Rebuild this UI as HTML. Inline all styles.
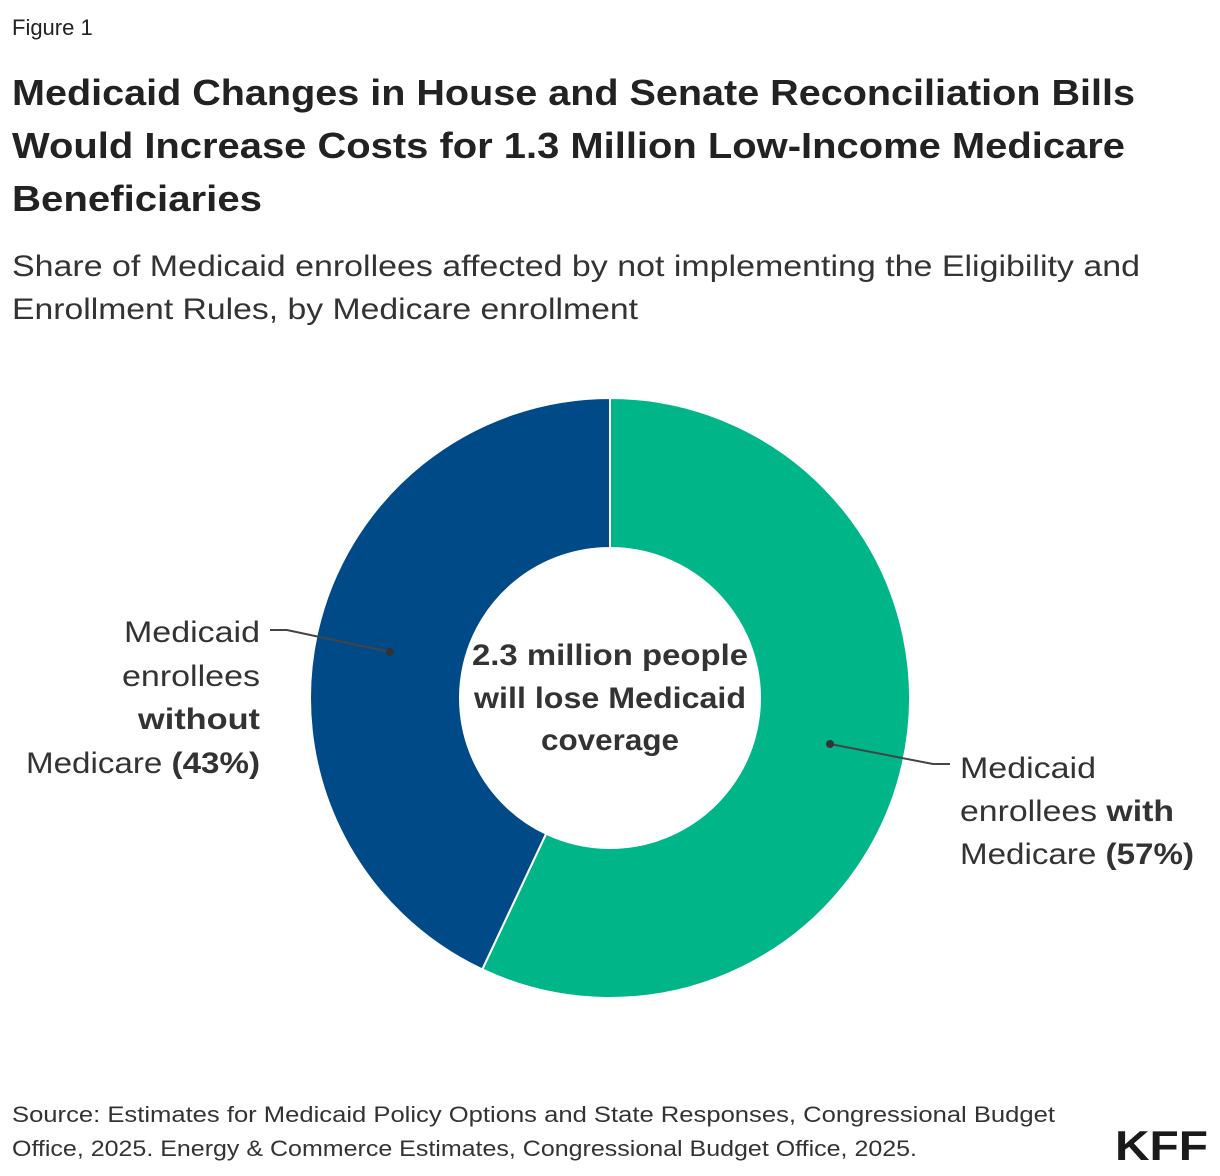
<!DOCTYPE html>
<html><head><meta charset="utf-8"><style>
html,body{margin:0;padding:0;background:#fff;}
svg{display:block;font-family:"Liberation Sans",sans-serif;}
</style></head><body>
<svg width="1220" height="1176" viewBox="0 0 1220 1176">
<text x="12" y="35" font-size="22" fill="#222">Figure 1</text>
<g font-size="36" font-weight="bold" fill="#222">
<text x="12" y="105" textLength="1123" lengthAdjust="spacingAndGlyphs">Medicaid Changes in House and Senate Reconciliation Bills</text>
<text x="12" y="158" textLength="1113" lengthAdjust="spacingAndGlyphs">Would Increase Costs for 1.3 Million Low-Income Medicare</text>
<text x="12" y="211" textLength="250" lengthAdjust="spacingAndGlyphs">Beneficiaries</text>
</g>
<g font-size="30" fill="#333">
<text x="12" y="276" textLength="1128" lengthAdjust="spacingAndGlyphs">Share of Medicaid enrollees affected by not implementing the Eligibility and</text>
<text x="12" y="319" textLength="626" lengthAdjust="spacingAndGlyphs">Enrollment Rules, by Medicare enrollment</text>
</g>
<g id="donut"></g>
<g id="center" font-size="30" font-weight="bold" fill="#333" text-anchor="middle">
<text x="610" y="665" textLength="276" lengthAdjust="spacingAndGlyphs">2.3 million people</text>
<text x="610" y="708" textLength="272" lengthAdjust="spacingAndGlyphs">will lose Medicaid</text>
<text x="610" y="750" textLength="138" lengthAdjust="spacingAndGlyphs">coverage</text>
</g>
<g stroke="#444" stroke-width="2" fill="none">
<polyline points="270,630 287,630 390,652"/>
<polyline points="830,744 933,764 950,764"/>
</g>
<circle cx="390" cy="652" r="4" fill="#333"/>
<circle cx="830" cy="744" r="4" fill="#333"/>
<g font-size="30" fill="#333" text-anchor="end">
<text x="260" y="642" textLength="136" lengthAdjust="spacingAndGlyphs">Medicaid</text>
<text x="260" y="686" textLength="138" lengthAdjust="spacingAndGlyphs">enrollees</text>
<text x="260" y="729" font-weight="bold" textLength="122" lengthAdjust="spacingAndGlyphs">without</text>
<text x="260" y="773" textLength="234" lengthAdjust="spacingAndGlyphs">Medicare <tspan font-weight="bold">(43%)</tspan></text>
</g>
<g font-size="30" fill="#333">
<text x="960" y="778" textLength="136" lengthAdjust="spacingAndGlyphs">Medicaid</text>
<text x="960" y="821" textLength="214" lengthAdjust="spacingAndGlyphs">enrollees <tspan font-weight="bold">with</tspan></text>
<text x="960" y="864" textLength="234" lengthAdjust="spacingAndGlyphs">Medicare <tspan font-weight="bold">(57%)</tspan></text>
</g>
<g font-size="22" fill="#333">
<text x="12" y="1122" textLength="1043" lengthAdjust="spacingAndGlyphs">Source: Estimates for Medicaid Policy Options and State Responses, Congressional Budget</text>
<text x="12" y="1156" textLength="905" lengthAdjust="spacingAndGlyphs">Office, 2025. Energy &amp; Commerce Estimates, Congressional Budget Office, 2025.</text>
</g>
<text x="1208" y="1160" text-anchor="end" font-size="42" font-weight="bold" fill="#1a1a1a" textLength="93" lengthAdjust="spacingAndGlyphs">KFF</text>
<script>
const categories = ["with Medicare", "without Medicare"];
const shares = [57, 43];
const colors = ["#00b588", "#004a87"];
const g = document.getElementById('donut');
const cx = 610, cy = 698, R = 300, r = 150;
const total = shares.reduce((a, b) => a + b, 0);
function pt(rad, frac) { const a = frac * 2 * Math.PI; return [cx + rad * Math.sin(a), cy - rad * Math.cos(a)]; }
let acc = 0;
shares.forEach((v, i) => {
  const f0 = acc / total, f1 = (acc + v) / total; acc += v;
  const large = (f1 - f0) > 0.5 ? 1 : 0;
  const [x0, y0] = pt(R, f0), [x1, y1] = pt(R, f1), [x2, y2] = pt(r, f1), [x3, y3] = pt(r, f0);
  const p = document.createElementNS('http://www.w3.org/2000/svg', 'path');
  p.setAttribute('d', `M${x0},${y0} A${R},${R} 0 ${large} 1 ${x1},${y1} L${x2},${y2} A${r},${r} 0 ${large} 0 ${x3},${y3} Z`);
  p.setAttribute('fill', colors[i]);
  p.setAttribute('stroke', '#fff');
  p.setAttribute('stroke-width', '2');
  
  
  g.appendChild(p);
});
</script>
</svg>
</body></html>
